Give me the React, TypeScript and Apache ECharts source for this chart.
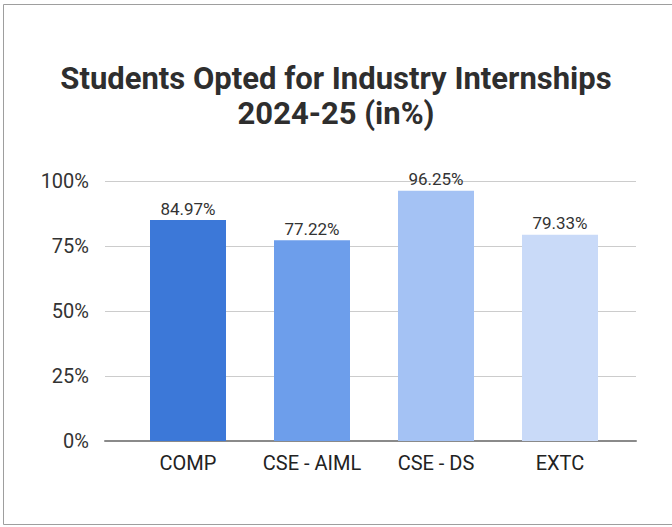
import React, { useEffect, useRef } from "react";
import * as echarts from "echarts";

const categories = ["COMP", "CSE - AIML", "CSE - DS", "EXTC"];
const values = [84.97, 77.22, 96.25, 79.33];
const barColors = ["#3c78d8", "#6d9eeb", "#a4c2f4", "#c9daf8"];
const yTicks = { min: 0, max: 100, interval: 25 };
const titleText = "Students Opted for Industry Internships\n2024-25 (in%)";

export default function App() {
  const ref = useRef<HTMLDivElement>(null);
  useEffect(() => {
    document.body.style.margin = "0";
    if (!ref.current) return;
    const chart = echarts.init(ref.current, null, { renderer: "svg" });
    const font = "Roboto, 'Noto Sans', sans-serif";
    chart.setOption({
      animation: false,
      backgroundColor: "#ffffff",
      textStyle: { fontFamily: font },
      title: {
        text: titleText,
        left: "center",
        top: 56,
        textStyle: {
          fontFamily: font,
          fontSize: 31,
          fontWeight: "bold",
          color: "#2e2e2e",
          lineHeight: 35,
          align: "center",
        },
      },
      graphic: [
        {
          type: "rect",
          shape: { x: 3.5, y: 4.5, width: 700, height: 520 },
          style: { fill: "none", stroke: "#9e9e9e", lineWidth: 1 },
          silent: true,
        },
      ],
      grid: [
        { left: 105, right: 36, top: 181, height: 260, containLabel: false },
        { left: 126, right: 50, top: 181, height: 260, containLabel: false },
      ],
      xAxis: [
        {
          type: "value",
          gridIndex: 0,
          min: 0,
          max: 1,
          axisLine: { show: true, lineStyle: { color: "#8a8a8a", width: 2 } },
          axisTick: { show: false },
          axisLabel: { show: false },
          splitLine: { show: false },
        },
        {
          type: "category",
          gridIndex: 1,
          data: categories,
          axisLine: { show: false },
          axisTick: { show: false },
          axisLabel: {
            fontFamily: font,
            fontSize: 20,
            color: "#222222",
            margin: 12,
            interval: 0,
          },
        },
      ],
      yAxis: [
        {
          type: "value",
          gridIndex: 0,
          min: yTicks.min,
          max: yTicks.max,
          interval: yTicks.interval,
          axisLine: { show: false },
          axisTick: { show: false },
          axisLabel: {
            formatter: "{value}%",
            fontFamily: font,
            fontSize: 20,
            color: "#333333",
            margin: 16,
          },
          splitLine: { show: true, lineStyle: { color: "#cccccc", width: 1 } },
        },
        {
          type: "value",
          gridIndex: 1,
          min: yTicks.min,
          max: yTicks.max,
          show: false,
          splitLine: { show: false },
        },
      ],
      series: [
        {
          type: "bar",
          xAxisIndex: 1,
          yAxisIndex: 1,
          barWidth: 76,
          data: values.map((v, i) => ({ value: v, itemStyle: { color: barColors[i] } })),
          label: {
            show: true,
            position: "top",
            distance: 3,
            fontFamily: font,
            fontSize: 17,
            color: "#333333",
            formatter: (p: any) => p.value.toFixed(2) + "%",
          },
        },
      ],
    });
    return () => chart.dispose();
  }, []);
  return <div ref={ref} style={{ width: 672, height: 527 }} />;
}
